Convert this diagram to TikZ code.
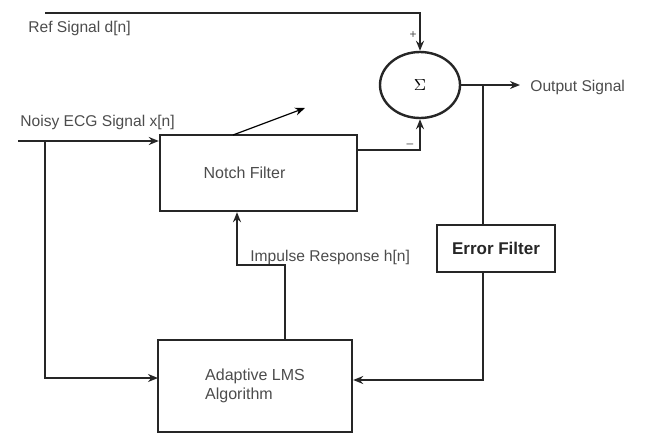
\documentclass[tikz,border=0pt]{standalone}
\usepackage{fontspec}
\setmainfont{Liberation Sans}
\usepackage{tikz}
\usetikzlibrary{shapes.geometric, arrows.meta, positioning}

\begin{document}
\begin{tikzpicture}[
    x=0.5pt, y=-0.5pt,
    box/.style={draw, line width=1.2pt, draw=black!85, inner sep=0pt, align=center,
                font=\fontsize{8}{9.5}\selectfont, text=black!70},
    lbl/.style={font=\fontsize{7.8}{9.5}\selectfont, text=black!70, inner sep=0pt},
    wire/.style={line width=1.2pt, draw=black!85},
    arrow/.style={-{Stealth[length=5pt,width=4pt]}, line width=1.2pt, draw=black!85}
]
\useasboundingbox (0,0) rectangle (648,434);

% blocks
\node[box, minimum width=98.5pt, minimum height=38pt] (notch) at (258.5,173)
    {\hspace*{-14pt}Notch Filter};
\node[box, minimum width=97pt, minimum height=46pt, align=left] (lms) at (255,386)
    {Adaptive LMS\\Algorithm};
\node[box, minimum width=59pt, minimum height=23.5pt, text=black!85,
      font=\fontsize{8.5}{10}\selectfont\bfseries] (err) at (496,248.5) {Error Filter};
\node[draw=black!85, ellipse, line width=1.2pt, minimum width=40pt, minimum height=33pt,
      inner sep=0pt, font=\fontsize{8}{9.5}\selectfont] (sum) at (420,85) {$\Sigma$};

% labels
\node[lbl, anchor=west] (reflbl) at (28,28) {Ref Signal d[n]};
\node[lbl] (plus) at (413,35) {\fontsize{6}{7}\selectfont +};
\node[lbl] (minus) at (410,146) {\fontsize{6}{7}\selectfont --};
\node[lbl, anchor=west] (xlbl) at (20,122) {Noisy ECG Signal x[n]};
\node[lbl, anchor=west] (outlbl) at (530,87) {Output Signal};
\node[lbl, anchor=west] (hlbl) at (250,257) {Impulse Response h[n]};

% points on the wires
\coordinate (refin) at (45,13);
\coordinate (xin) at (18,141);
\coordinate (split) at (45,141);
\coordinate (lmsin) at (158,378);
\coordinate (nout) at (357,150);
\coordinate (out) at (520,85);
\coordinate (tap) at (483,85);
\coordinate (fb) at (483,380);
\coordinate (hlo) at (285,340);
\coordinate (hmid) at (237,265);
\coordinate (tunefrom) at (233,135);
\coordinate (tuneto) at (305,108);

% connections
\draw[arrow] (refin) -| (sum.north);
\draw[arrow] (sum.east) -- (out);
\draw[wire] (tap) -- (tap |- err.north);
\draw[arrow] (tap |- err.south) -- (fb) -- (fb -| lms.east);
\draw[arrow] (xin) -- (xin -| notch.west);
\draw[arrow] (split) |- (lmsin);
\draw[arrow] (nout) -| (sum.south);
\draw[arrow] (hlo) |- (hmid) -- (hmid |- notch.south);
\draw[-{Stealth[length=5pt,width=4pt]}, line width=0.6pt] (tunefrom) -- (tuneto);
\end{tikzpicture}
\end{document}
